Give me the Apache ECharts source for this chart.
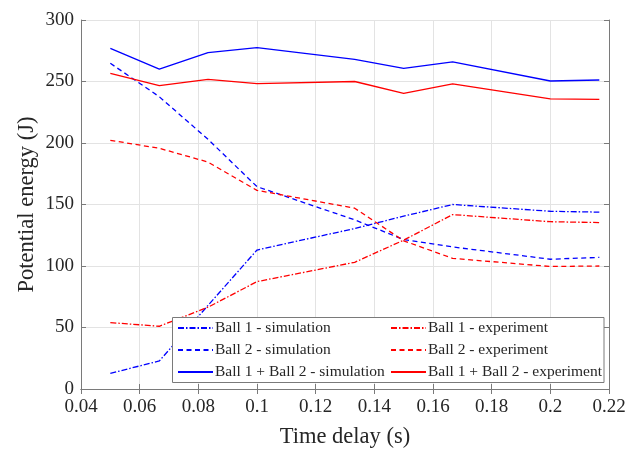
<!DOCTYPE html>
<html><head><meta charset="utf-8">
<script src="https://cdn.jsdelivr.net/npm/echarts@6/dist/echarts.min.js"></script>
<style>html,body{margin:0;padding:0;background:#fff}#c{width:627px;height:450px}</style>
</head><body><div id="c"></div>
<script>
var timeDelay = [0.05, 0.0667, 0.0833, 0.1, 0.1333, 0.15, 0.1667, 0.2, 0.2167];
var ball1Sim = [12.7, 22.8, 68, 113, 130.5, 140.5, 150, 144.5, 143.8];
var ball2Sim = [264.8, 237.6, 203, 164.5, 137.5, 121.5, 115.5, 105.5, 107];
var sumSim   = [277, 260, 273.4, 277.5, 268, 260.7, 266, 250.4, 251.2];
var ball1Exp = [54, 51, 66.5, 87.3, 103, 121, 141.8, 136, 135.3];
var ball2Exp = [202.2, 195.7, 184.5, 161.5, 147, 120.5, 106.2, 99.6, 100];
var sumExp   = [256.6, 246.6, 251.8, 248.2, 250, 240.4, 248, 235.8, 235.5];
var names = ['Ball 1 - simulation','Ball 2 - simulation','Ball 1 + Ball 2 - simulation',
             'Ball 1 - experiment','Ball 2 - experiment','Ball 1 + Ball 2 - experiment'];

function pairs(ys){ return timeDelay.map(function(x,i){ return [x, ys[i]]; }); }
var dashDot = [6,2,1.5,2];
var dashed = [5,3.5];
function mk(name, ys, color, type){
  return {name:name, type:'line', data:pairs(ys), symbol:'none', showSymbol:false,
    lineStyle:{color:color, width:1.3, type:type}, itemStyle:{color:color}, z:2, animation:false};
}
var FONT = 'Liberation Serif';
var axisCol = '#7a7a7a';
var chart = echarts.init(document.getElementById('c'), null, {renderer:'canvas'});
var fmt = function(v){ return String(parseFloat(v.toFixed(4))); };
var gridLine = {show:true, lineStyle:{color:'#e3e3e3', width:1}};
var legendText = {fontFamily:FONT, fontSize:15.5, color:'#262626', padding:[0,0,0,-3]};
chart.setOption({
  animation:false,
  backgroundColor:'#fff',
  grid:{left:81, right:18, top:20, bottom:61, containLabel:false, outerBoundsMode:'none'},
  xAxis:[
    {type:'value', min:0.04, max:0.22, interval:0.02, position:'bottom',
     axisLine:{show:true, lineStyle:{color:axisCol}}, axisTick:{show:true, inside:true, length:5, lineStyle:{color:axisCol}},
     axisLabel:{formatter:fmt, color:'#262626', fontFamily:FONT, fontSize:19, margin:9},
     splitLine:gridLine, nameMoveOverlap:false,
     name:'Time delay (s)', nameLocation:'middle', nameGap:37,
     nameTextStyle:{color:'#262626', fontFamily:FONT, fontSize:22.5}},
    {type:'value', min:0.04, max:0.22, interval:0.02, position:'top',
     axisLine:{show:true, lineStyle:{color:axisCol}}, axisTick:{show:true, inside:true, length:5, lineStyle:{color:axisCol}},
     axisLabel:{show:false}, splitLine:{show:false}}
  ],
  yAxis:[
    {type:'value', min:0, max:300, interval:50, position:'left',
     axisLine:{show:true, lineStyle:{color:axisCol}}, axisTick:{show:true, inside:true, length:5, lineStyle:{color:axisCol}},
     axisLabel:{color:'#262626', fontFamily:FONT, fontSize:19, margin:7},
     splitLine:gridLine, nameMoveOverlap:false,
     name:'Potential energy (J)', nameLocation:'middle', nameGap:42,
     nameTextStyle:{color:'#262626', fontFamily:FONT, fontSize:22.5}},
    {type:'value', min:0, max:300, interval:50, position:'right',
     axisLine:{show:true, lineStyle:{color:axisCol}}, axisTick:{show:true, inside:true, length:5, lineStyle:{color:axisCol}},
     axisLabel:{show:false}, splitLine:{show:false}}
  ],
  graphic:[{type:'rect', z:3, shape:{x:172.5, y:317.5, width:431.5, height:65},
    style:{fill:'#fff', stroke:'#7a7a7a', lineWidth:1}}],
  legend:[
    {data:names.slice(0,3), orient:'vertical', left:177, top:320, itemWidth:35, itemHeight:14, itemGap:6,
     padding:0, z:4, itemStyle:{opacity:0}, textStyle:legendText, selectedMode:false},
    {data:names.slice(3,6), orient:'vertical', left:390, top:320, itemWidth:35, itemHeight:14, itemGap:6,
     padding:0, z:4, itemStyle:{opacity:0}, textStyle:legendText, selectedMode:false}
  ],
  series:[
    mk(names[0], ball1Sim, '#0000ff', dashDot),
    mk(names[1], ball2Sim, '#0000ff', dashed),
    mk(names[2], sumSim, '#0000ff', 'solid'),
    mk(names[3], ball1Exp, '#ff0000', dashDot),
    mk(names[4], ball2Exp, '#ff0000', dashed),
    mk(names[5], sumExp, '#ff0000', 'solid')
  ]
});
</script></body></html>
